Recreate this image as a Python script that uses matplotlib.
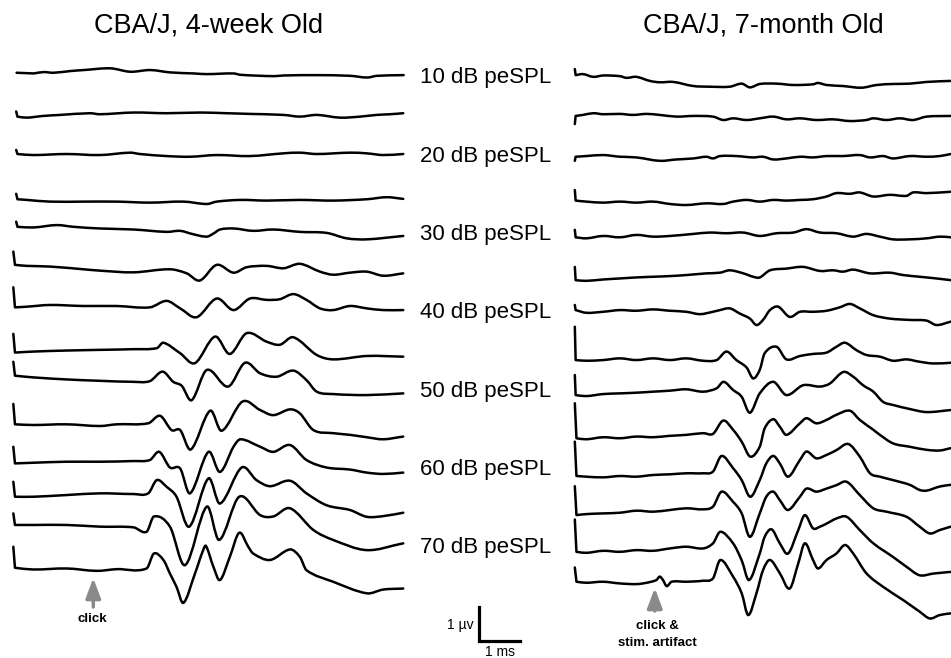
import matplotlib
matplotlib.use("Agg")
import matplotlib.pyplot as plt
from matplotlib.path import Path
from matplotlib.patches import PathPatch

plt.rcParams['font.family'] = ['Liberation Sans', 'DejaVu Sans']

# ABR waveforms, time in ms from trace start, amplitude in uV
young_t = [
    [0.08, 0.5, 0.74, 0.98, 1.39, 1.72, 2.37, 2.85, 3.34, 3.83, 4.4, 4.72, 5.37, 5.54, 6.35, 6.59, 7.41, 8.22, 8.63, 8.87, 9.52],
    [0.07, 0.1, 0.33, 0.73, 1.14, 1.87, 2.11, 2.93, 3.74, 4.55, 5.2, 5.77, 6.59, 6.99, 7.4, 7.97, 8.46, 8.86, 9.19, 9.51],
    [0.07, 0.1, 0.49, 1.3, 2.11, 2.85, 3.09, 3.74, 4.31, 4.96, 5.77, 6.59, 6.99, 7.4, 8.21, 8.62, 9.02, 9.51],
    [0.07, 0.1, 0.33, 0.89, 1.71, 2.52, 3.33, 4.15, 4.72, 4.96, 5.53, 6.18, 6.99, 7.8, 8.62, 9.11, 9.51],
    [0.07, 0.1, 0.49, 1.06, 1.46, 2.11, 2.93, 3.74, 4.07, 4.39, 4.72, 4.88, 5.04, 5.37, 5.85, 6.34, 6.99, 7.64, 8.13, 8.62, 9.51],
    [0.0, 0.04, 0.33, 0.89, 1.71, 2.11, 2.93, 3.82, 4.23, 4.55, 4.96, 5.37, 5.69, 6.18, 6.59, 6.99, 7.48, 7.8, 8.21, 8.62, 9.02, 9.51],
    [0.0, 0.04, 0.33, 0.89, 1.71, 2.52, 3.33, 3.74, 4.07, 4.47, 4.96, 5.37, 5.77, 6.18, 6.5, 6.83, 7.15, 7.48, 7.8, 8.21, 8.62, 9.02, 9.51],
    [0.0, 0.04, 0.49, 1.3, 2.11, 2.93, 3.5, 3.66, 4.07, 4.43, 4.92, 5.28, 5.69, 6.18, 6.5, 6.83, 7.4, 7.8, 8.62, 9.51],
    [0.0, 0.04, 0.49, 1.3, 2.11, 2.93, 3.33, 3.64, 3.9, 4.11, 4.35, 4.72, 5.24, 5.65, 6.02, 6.42, 6.83, 7.15, 7.4, 7.8, 8.62, 9.51],
    [0.0, 0.04, 0.49, 1.3, 2.11, 2.52, 3.29, 3.58, 3.86, 4.07, 4.33, 4.8, 5.08, 5.59, 6.02, 6.34, 6.75, 6.99, 7.32, 7.8, 8.21, 8.62, 9.02, 9.51],
    [0.0, 0.04, 0.49, 1.3, 2.11, 2.93, 3.33, 3.56, 3.82, 4.07, 4.31, 4.76, 5.04, 5.37, 5.54, 6.02, 6.34, 6.75, 7.15, 7.64, 8.21, 8.62, 9.02, 9.51],
    [0.0, 0.04, 0.49, 1.3, 2.11, 2.93, 3.29, 3.5, 3.74, 3.98, 4.29, 4.76, 5.04, 5.57, 5.93, 6.26, 6.75, 7.15, 7.64, 8.21, 8.62, 9.02, 9.51],
    [0.0, 0.04, 0.49, 1.3, 2.11, 2.93, 3.25, 3.43, 3.82, 4.19, 4.72, 5.02, 5.51, 6.02, 6.34, 6.75, 7.32, 7.8, 8.62, 9.51],
    [0.0, 0.04, 0.49, 1.3, 2.03, 2.52, 3.25, 3.43, 3.66, 3.82, 3.98, 4.15, 4.43, 4.63, 4.7, 4.88, 5.04, 5.28, 5.51, 5.73, 5.85, 6.26, 6.75, 6.99, 7.15, 7.8, 8.62, 9.02, 9.51],
]
young_uv = [
    [0, -0.02, 0.02, 0, 0.05, 0.08, 0.13, 0.03, 0.08, 0.01, -0.02, -0.04, -0.02, -0.06, -0.1, -0.08, -0.07, -0.09, -0.14, -0.09, -0.07],
    [0.15, 0, -0.03, 0.02, 0.05, 0.1, 0.07, 0.12, 0.1, 0.12, 0.1, 0.08, 0.05, 0, 0.05, -0.03, 0, 0.05, 0.07, 0.1],
    [0.12, 0, -0.03, 0, -0.03, 0.04, 0, -0.06, -0.08, -0.03, -0.06, 0.02, 0.04, 0, 0.04, 0.02, -0.03, 0],
    [0.18, 0.02, 0, -0.05, -0.05, -0.05, -0.08, -0.05, -0.12, -0.05, 0, -0.02, 0, -0.02, 0.02, 0.08, 0.03],
    [0.15, 0, -0.02, 0.05, 0, -0.05, -0.08, -0.15, -0.12, -0.22, -0.29, -0.2, -0.08, -0.05, -0.12, -0.08, -0.15, -0.18, -0.34, -0.37, -0.27],
    [0.39, 0, -0.03, -0.05, -0.13, -0.17, -0.22, -0.13, -0.25, -0.46, 0, -0.23, -0.07, -0.03, -0.1, 0.03, -0.2, -0.29, -0.23, -0.2, -0.32, -0.25],
    [0.59, 0, 0.02, 0.07, 0.04, 0.04, 0, 0.19, -0.03, -0.29, 0.26, -0.08, 0.26, 0.22, 0.24, 0.39, 0.22, -0.03, -0.08, 0.04, -0.03, -0.08, -0.08],
    [0.55, 0, 0.03, 0.06, 0.08, 0.1, 0.13, 0.29, -0.02, -0.31, 0.47, -0.04, 0.57, 0.32, 0.23, 0.45, -0.07, -0.2, -0.1, -0.12],
    [0.41, 0, -0.05, -0.11, -0.15, -0.18, -0.16, 0.12, -0.18, -0.3, -0.72, 0.17, -0.32, 0.38, 0.07, -0.03, 0.15, -0.13, -0.47, -0.54, -0.57, -0.52],
    [0.6, 0, -0.02, 0, -0.05, 0, 0.03, 0.25, -0.17, -0.17, -0.74, 0.4, -0.19, 0.67, 0.42, 0.27, 0.44, 0.32, -0.17, -0.26, -0.31, -0.38, -0.44, -0.36],
    [0.49, 0, 0.02, 0.05, 0.05, 0.07, 0.1, 0.34, -0.12, -0.15, -0.88, 0.34, -0.25, 0.49, 0.71, 0.49, 0.34, 0.54, 0.1, -0.12, -0.18, -0.27, -0.31, -0.27],
    [0.44, 0, 0, 0.05, 0.1, 0.08, 0.1, 0.49, 0.29, 0, -0.88, 0.54, -0.2, 0.86, 0.49, 0.31, 0.47, 0.1, -0.25, -0.39, -0.59, -0.57, -0.47],
    [0.34, 0, 0, 0, -0.05, -0.07, -0.2, 0.25, -0.05, -1.18, 0.54, -0.44, 0.83, 0.29, 0.25, 0.49, -0.15, -0.44, -0.74, -0.54],
    [0.62, 0, -0.05, -0.02, -0.09, -0.04, -0.02, 0.42, 0.23, -0.17, -0.56, -1.03, -0.17, 0.52, 0.64, 0.03, -0.36, 0.32, 1.03, 0.62, 0.42, 0.23, 0.54, 0.32, -0.07, -0.41, -0.75, -0.64, -0.61],
]

old_t = [
    [0.0, 0.02, 0.2, 0.45, 0.69, 1.1, 1.26, 1.5, 1.83, 2.07, 2.4, 2.89, 3.29, 3.78, 4.07, 4.27, 4.51, 4.92, 5.33, 5.81, 5.93, 6.14, 6.54, 6.99, 7.36, 7.76, 8.17, 8.58, 9.17],
    [0.0, 0.02, 0.2, 0.45, 0.69, 1.1, 1.42, 1.75, 2.07, 2.48, 2.89, 3.37, 3.62, 3.86, 4.19, 4.51, 4.84, 5.16, 5.49, 5.89, 6.3, 6.71, 7.11, 7.28, 7.6, 7.93, 8.25, 8.58, 9.17],
    [0.0, 0.02, 0.28, 0.69, 1.1, 1.5, 2.07, 2.48, 2.89, 3.21, 3.37, 3.54, 3.94, 4.35, 4.59, 4.84, 5.16, 5.49, 5.81, 6.14, 6.54, 6.95, 7.2, 7.52, 7.76, 8.17, 8.58, 8.9, 9.17],
    [0.0, 0.02, 0.28, 0.69, 1.1, 1.5, 1.91, 2.32, 2.72, 3.21, 3.62, 3.86, 4.19, 4.51, 4.84, 5.16, 5.49, 5.81, 6.14, 6.38, 6.71, 6.95, 7.28, 7.68, 8.09, 8.25, 8.58, 9.17],
    [0.0, 0.02, 0.28, 0.69, 1.1, 1.5, 1.91, 2.32, 2.89, 3.29, 3.7, 4.11, 4.51, 4.92, 5.33, 5.65, 5.98, 6.38, 6.79, 7.11, 7.44, 7.76, 8.17, 8.58, 8.9, 9.17],
    [0.0, 0.02, 0.28, 0.69, 1.1, 1.5, 1.91, 2.32, 2.72, 3.21, 3.54, 3.78, 4.11, 4.35, 4.51, 4.76, 5.16, 5.57, 5.98, 6.3, 6.54, 6.79, 7.2, 7.68, 8.01, 8.41, 8.82, 9.17],
    [0.0, 0.02, 0.28, 0.69, 1.1, 1.5, 1.91, 2.32, 2.72, 3.05, 3.37, 3.54, 3.78, 4.02, 4.27, 4.43, 4.59, 4.76, 4.96, 5.24, 5.49, 5.81, 6.14, 6.46, 6.71, 6.95, 7.28, 7.68, 8.17, 8.58, 8.82, 9.17],
    [0.0, 0.02, 0.28, 0.69, 1.1, 1.5, 1.91, 2.32, 2.72, 3.13, 3.46, 3.7, 3.94, 4.19, 4.35, 4.51, 4.63, 4.92, 5.16, 5.49, 5.81, 6.14, 6.38, 6.59, 6.87, 7.11, 7.44, 7.76, 8.09, 8.41, 8.74, 9.17],
    [0.0, 0.02, 0.28, 0.69, 1.1, 1.5, 1.91, 2.32, 2.72, 3.13, 3.46, 3.63, 3.86, 4.07, 4.27, 4.51, 4.84, 5.16, 5.57, 5.98, 6.22, 6.55, 6.79, 7.03, 7.28, 7.52, 7.76, 8.17, 8.58, 9.17],
    [0.0, 0.04, 0.28, 0.69, 1.1, 1.5, 1.91, 2.3, 2.72, 3.13, 3.37, 3.62, 3.86, 4.07, 4.28, 4.51, 4.63, 4.84, 5.0, 5.16, 5.49, 5.65, 5.89, 6.14, 6.38, 6.71, 6.95, 7.28, 7.44, 7.76, 8.17, 8.58, 8.9, 9.17],
    [0.0, 0.04, 0.28, 0.69, 1.1, 1.5, 1.91, 2.32, 2.72, 3.13, 3.37, 3.58, 3.86, 4.07, 4.28, 4.51, 4.67, 4.84, 5.0, 5.2, 5.49, 5.65, 5.89, 6.14, 6.38, 6.67, 6.95, 7.2, 7.44, 7.76, 8.17, 8.41, 8.58, 8.9, 9.17],
    [0.0, 0.04, 0.28, 0.69, 1.1, 1.5, 1.91, 2.32, 2.72, 3.13, 3.37, 3.58, 3.86, 4.07, 4.27, 4.51, 4.67, 4.84, 5.0, 5.2, 5.49, 5.65, 5.89, 6.14, 6.38, 6.63, 6.95, 7.28, 7.6, 8.09, 8.41, 8.66, 8.9, 9.17],
    [0.0, 0.04, 0.28, 0.69, 1.1, 1.5, 1.91, 2.32, 2.72, 3.13, 3.37, 3.55, 3.86, 4.07, 4.25, 4.51, 4.63, 4.8, 5.0, 5.2, 5.45, 5.61, 5.81, 5.98, 6.14, 6.38, 6.63, 6.95, 7.28, 7.76, 8.09, 8.41, 8.74, 9.17],
    [0.0, 0.04, 0.28, 0.69, 1.1, 1.5, 1.75, 1.99, 2.07, 2.15, 2.24, 2.36, 2.72, 3.13, 3.37, 3.55, 3.86, 4.07, 4.23, 4.43, 4.59, 4.76, 5.0, 5.24, 5.45, 5.61, 5.81, 5.93, 6.14, 6.38, 6.59, 6.79, 7.11, 7.52, 8.01, 8.41, 8.66, 8.9, 9.17],
]
old_uv = [
    [0.18, 0, 0.03, -0.05, -0.01, -0.03, -0.08, -0.05, -0.17, -0.21, -0.2, -0.32, -0.34, -0.34, -0.25, -0.36, -0.26, -0.25, -0.29, -0.27, -0.23, -0.29, -0.32, -0.37, -0.29, -0.26, -0.25, -0.2, -0.17],
    [-0.24, 0, 0.03, 0.08, 0.05, 0.06, 0.03, 0.06, 0.03, -0.02, 0, -0.02, -0.12, -0.07, -0.12, -0.07, -0.02, -0.1, -0.07, -0.12, -0.1, -0.15, -0.12, -0.07, -0.12, -0.07, -0.12, -0.02, 0],
    [-0.12, 0, 0.02, 0.05, 0, -0.02, -0.12, -0.08, -0.05, 0, -0.05, 0.02, 0.02, -0.02, 0, -0.08, -0.05, 0, -0.02, 0.02, 0.02, 0.05, -0.02, 0.02, -0.05, 0.02, 0, 0.02, 0.08],
    [0.31, 0, -0.03, -0.06, -0.03, -0.06, -0.03, -0.1, -0.13, -0.08, -0.1, -0.03, 0.02, -0.03, 0.02, 0, 0.02, 0.04, 0.12, 0.22, 0.2, 0.24, 0.12, 0.17, 0.14, 0.24, 0.22, 0.26],
    [0.22, 0, -0.03, 0.04, 0, 0.07, 0.02, 0.04, 0.1, 0.14, 0.12, 0.14, 0.04, 0.12, 0.14, 0.24, 0.14, 0.12, 0.02, 0.1, 0.02, -0.06, -0.06, -0.03, 0.02, 0],
    [0.39, 0, -0.02, 0.02, 0.05, 0.08, 0.1, 0.12, 0.15, 0.2, 0.22, 0.29, 0.2, 0.1, 0.08, 0.29, 0.34, 0.39, 0.27, 0.29, 0.25, 0.31, 0.2, 0.22, 0.15, 0.1, 0.05, 0],
    [0.15, 0, -0.08, -0.05, 0, -0.02, 0.02, -0.02, -0.05, -0.12, -0.05, 0, 0.05, -0.1, -0.25, -0.44, -0.29, 0, 0.1, -0.2, -0.05, -0.05, -0.02, 0.08, 0.18, 0.05, -0.15, -0.25, -0.29, -0.31, -0.44, -0.34],
    [0.98, 0, -0.02, 0, 0.05, 0, 0.05, 0, 0.05, -0.02, 0, 0.25, 0, -0.22, -0.54, -0.29, 0.2, 0.39, 0.02, 0.12, 0.18, 0.22, 0.39, 0.51, 0.29, 0.15, 0.1, -0.02, 0.02, -0.05, -0.1, -0.08],
    [0.59, 0, -0.03, 0.03, 0.05, 0.07, 0.1, 0.13, 0.17, 0.1, 0.2, 0.39, 0.15, -0.05, -0.52, 0.05, 0.39, 0, 0.29, 0.25, 0.34, 0.68, 0.54, 0.29, 0.1, -0.2, -0.29, -0.41, -0.5, -0.44],
    [1.03, 0, -0.03, 0.03, 0, 0.05, 0.03, 0.07, 0.1, 0.15, 0.13, 0.52, 0.25, -0.1, -0.54, -0.25, 0.29, 0.56, 0.34, 0.1, 0.44, 0.59, 0.44, 0.54, 0.69, 0.81, 0.54, 0.25, 0.1, -0.15, -0.25, -0.34, -0.36, -0.29],
    [1.01, 0, -0.02, -0.04, 0, -0.02, 0.03, 0.05, 0.08, 0.08, 0.13, 0.59, 0.23, -0.12, -0.61, -0.12, 0.37, 0.59, 0.37, -0.02, 0.47, 0.72, 0.52, 0.62, 0.76, 0.94, 0.57, 0.08, -0.02, -0.12, -0.26, -0.41, -0.43, -0.31, -0.26],
    [0.85, 0, 0.03, 0.05, 0.07, 0.13, 0.1, 0.15, 0.2, 0.17, 0.25, 0.69, 0.39, 0.05, -0.64, 0.05, 0.54, 0.69, 0.44, 0.15, 0.54, 0.78, 0.69, 0.78, 0.88, 0.98, 0.59, 0.2, 0.1, -0.05, -0.34, -0.54, -0.44, -0.34],
    [0.95, 0, -0.03, 0.03, 0, 0.05, 0.03, 0.1, 0.15, 0.1, 0.25, 0.59, 0.25, -0.25, -0.83, -0.05, 0.44, 0.66, 0.25, -0.05, 0.64, 1.08, 0.69, 0.74, 0.83, 0.98, 1.03, 0.64, 0.25, -0.15, -0.44, -0.69, -0.64, -0.59],
    [0.42, 0, -0.03, 0, -0.05, -0.07, -0.03, 0.05, 0.15, 0.05, -0.13, 0, 0, 0.03, 0.1, 0.64, 0.15, -0.34, -0.98, -0.34, 0.34, 0.64, 0.25, -0.2, 0.54, 1.13, 0.64, 0.39, 0.64, 0.83, 1.08, 0.83, 0.25, -0.15, -0.54, -0.88, -1.08, -0.98, -0.93],
]

levels = ['10 dB peSPL', '20 dB peSPL', '30 dB peSPL', '40 dB peSPL',
          '50 dB peSPL', '60 dB peSPL', '70 dB peSPL']
titles = ['CBA/J, 4-week Old', 'CBA/J, 7-month Old']
click_time = 1.95  # ms

# layout: vertical stacking of traces (uV below top edge), panel origins (ms)
young_rows = [2.14, 3.43, 4.53, 5.88, 6.67, 7.79, 9.04, 10.37, 11.05, 12.48, 13.63, 14.61, 15.44, 16.70]
old_rows = [2.21, 3.41, 4.61, 5.90, 6.98, 8.24, 9.12, 10.59, 11.62, 12.89, 14.0, 15.15, 16.23, 17.11]
young_x0 = 0.325
old_x0 = 14.02


def trace_path(xs, ys):
    # straight onset artifact, then a smooth Hermite-style Bezier through every read point
    pts = list(zip(xs, ys))
    verts = [pts[0], pts[1]]
    codes = [Path.MOVETO, Path.LINETO]
    n = len(pts)

    def slope(i):
        a = pts[max(i - 1, 1)]
        b = pts[min(i + 1, n - 1)]
        return (b[1] - a[1]) / (b[0] - a[0])

    for i in range(1, n - 1):
        (x1, y1), (x2, y2) = pts[i], pts[i + 1]
        d = (x2 - x1) / 3.0
        m1, m2 = slope(i), slope(i + 1)
        verts += [(x1 + d, y1 + m1 * d), (x2 - d, y2 - m2 * d), (x2, y2)]
        codes += [Path.CURVE4] * 3
    return Path(verts, codes)


W, H = 951, 658
fig = plt.figure(figsize=(W / 100, H / 100), dpi=100)
ax = fig.add_axes([0, 0, 1, 1])
ax.set_xlim(0, W / 41.0)      # 41 px per ms
ax.set_ylim(-H / 34.0, 0)     # 34 px per uV
ax.axis('off')

for x0, rows, ts, vs in [(young_x0, young_rows, young_t, young_uv),
                         (old_x0, old_rows, old_t, old_uv)]:
    for r, t, v in zip(rows, ts, vs):
        p = trace_path([x0 + ti for ti in t], [vi - r for vi in v])
        ax.add_patch(PathPatch(p, facecolor='none', edgecolor='black', lw=1.8,
                               joinstyle='round', capstyle='round', clip_on=False))


def fp(x, y):
    return x / W, 1 - y / H


fig.text(*fp(209, 33), titles[0], ha='center', va='baseline', fontsize=19.5)
fig.text(*fp(763, 33), titles[1], ha='center', va='baseline', fontsize=19.5)

for i, lab in enumerate(levels):
    fig.text(*fp(420, 83.3 + i * 78.3), lab, ha='left', va='baseline', fontsize=16)

# click arrows
arrow = dict(arrowstyle='-|>,head_width=0.45,head_length=1.2', color='#8a8a8a',
             lw=2.5, shrinkA=0, shrinkB=0, mutation_scale=10)
ax.annotate('', xy=(young_x0 + click_time, -578 / 34), xytext=(young_x0 + click_time, -607 / 34),
            arrowprops=arrow)
ax.annotate('', xy=(old_x0 + click_time, -588 / 34), xytext=(old_x0 + click_time, -611 / 34),
            arrowprops=arrow)
fig.text(*fp(92, 622), 'click', ha='center', va='baseline', fontsize=9.5, fontweight='bold')
fig.text(*fp(657, 629), 'click &', ha='center', va='baseline', fontsize=9.5, fontweight='bold')
fig.text(*fp(657, 646), 'stim. artifact', ha='center', va='baseline', fontsize=9.5, fontweight='bold')

# scale bar: 1 uV x 1 ms
sx, sy = 479 / 41, -641 / 34
ax.plot([sx, sx, sx + 1], [sy + 1, sy, sy], color='black', lw=2.3, solid_joinstyle='miter')
fig.text(*fp(474, 625), '1 µv', ha='right', va='center', fontsize=10)
fig.text(*fp(500, 645), '1 ms', ha='center', va='top', fontsize=10)

fig.savefig('out.png', dpi=100)
